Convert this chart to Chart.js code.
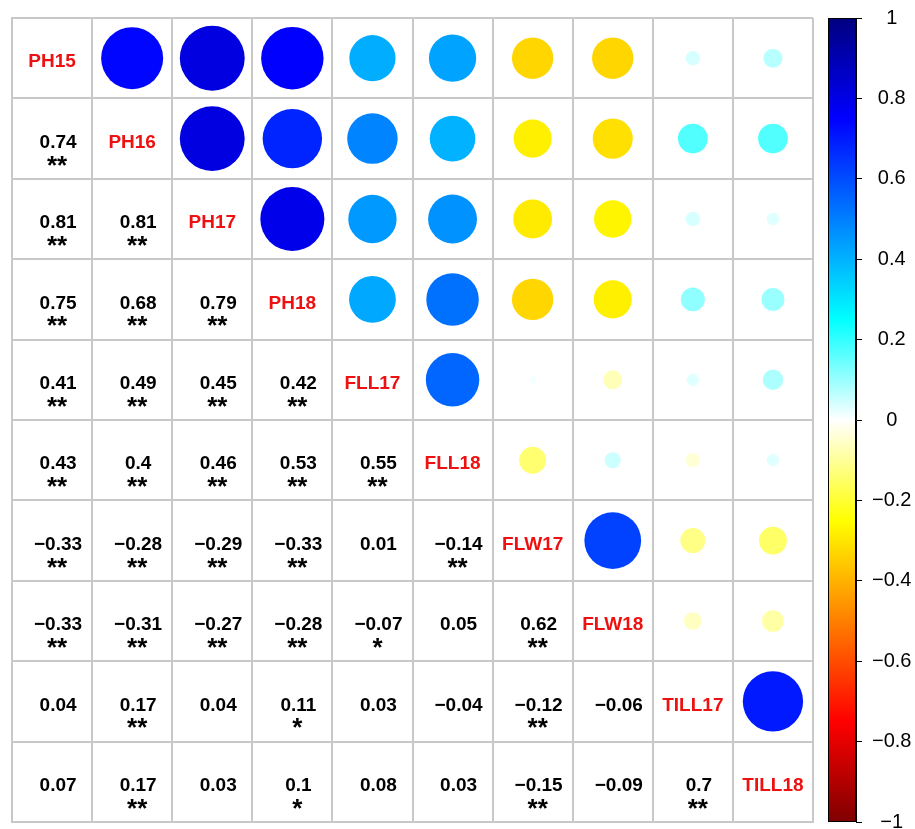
<!DOCTYPE html>
<html>
<head>
<meta charset="utf-8">
<script src="https://cdn.jsdelivr.net/npm/chart.js@4/dist/chart.umd.min.js"></script>
<style>
    html, body { margin: 0; padding: 0; background: #fff; overflow: hidden; }
    #wrap { position: relative; width: 915px; height: 829px; }
    #matrix { position: absolute; left: 0; top: 0; }
    #scaleBar { position: absolute; left: 815px; top: 0; }
</style>
</head>
<body>
<div id="wrap">
    <canvas id="matrix" width="815" height="829"></canvas>
    <canvas id="scaleBar" width="100" height="840"></canvas>
</div>
<script>
// Trait names (diagonal)
const traits = ['PH15', 'PH16', 'PH17', 'PH18', 'FLL17', 'FLL18', 'FLW17', 'FLW18', 'TILL17', 'TILL18'];

// Lower triangle correlations, row by row (row i has i values)
const corrRows = [
    [],
    [0.74],
    [0.81, 0.81],
    [0.75, 0.68, 0.79],
    [0.41, 0.49, 0.45, 0.42],
    [0.43, 0.4, 0.46, 0.53, 0.55],
    [-0.33, -0.28, -0.29, -0.33, 0.01, -0.14],
    [-0.33, -0.31, -0.27, -0.28, -0.07, 0.05, 0.62],
    [0.04, 0.17, 0.04, 0.11, 0.03, -0.04, -0.12, -0.06],
    [0.07, 0.17, 0.03, 0.1, 0.08, 0.03, -0.15, -0.09, 0.7]
];

// Significance marks, same layout
const sigRows = [
    [],
    ['**'],
    ['**', '**'],
    ['**', '**', '**'],
    ['**', '**', '**', '**'],
    ['**', '**', '**', '**', '**'],
    ['**', '**', '**', '**', '', '**'],
    ['**', '**', '**', '**', '*', '', '**'],
    ['', '**', '', '*', '', '', '**', ''],
    ['', '**', '', '*', '', '', '**', '', '**']
];

// Colour ramp from -1 to 1
const rampStops = [-1, -0.75, -0.5, -0.25, 0, 0.25, 0.5, 0.75, 1];
const rampColors = ['#7F0000', '#FF0000', '#FF7F00', '#FFFF00', '#FFFFFF', '#00FFFF', '#007FFF', '#0000FF', '#00007F'];

// Colour bar ticks
const barTicks = [-1, -0.8, -0.6, -0.4, -0.2, 0, 0.2, 0.4, 0.6, 0.8, 1];

const FONT = "'Liberation Sans', Arial, sans-serif";
const GRID = '#c8c8c8';

function hexToRgb(h) {
    return [parseInt(h.slice(1, 3), 16), parseInt(h.slice(3, 5), 16), parseInt(h.slice(5, 7), 16)];
}

function rampColor(v) {
    let k = 0;
    while (k < rampStops.length - 2 && v > rampStops[k + 1]) k++;
    const t = (v - rampStops[k]) / (rampStops[k + 1] - rampStops[k]);
    const a = hexToRgb(rampColors[k]);
    const b = hexToRgb(rampColors[k + 1]);
    const c = a.map((x, n) => Math.round(x + (b[n] - x) * t));
    return `rgb(${c[0]}, ${c[1]}, ${c[2]})`;
}

function fmt(v) {
    return String(v).replace('-', '\u2212');
}

// Circles go in the upper triangle, mirrored from the lower one
const circles = [];
corrRows.forEach((row, i) => {
    row.forEach((v, j) => {
        circles.push({ x: i + 0.5, y: j + 0.5, v: v });
    });
});

// Numbers, stars and names drawn into the cells
const cellText = {
    id: 'cellText',
    afterDatasetsDraw(chart) {
        const { ctx, scales: { x, y } } = chart;
        ctx.save();
        ctx.textAlign = 'center';
        traits.forEach((name, i) => {
            const cx = x.getPixelForValue(i + 0.5);
            const cy = y.getPixelForValue(i + 0.5);
            ctx.fillStyle = '#ee1111';
            ctx.font = `bold 19px ${FONT}`;
            ctx.textBaseline = 'middle';
            ctx.fillText(name, cx, cy + 4);

            corrRows[i].forEach((v, j) => {
                const px = x.getPixelForValue(j + 0.5);
                ctx.fillStyle = '#000';
                ctx.font = `bold 19px ${FONT}`;
                ctx.textBaseline = 'middle';
                ctx.fillText(fmt(v), px + 6, cy + 4);
                const s = sigRows[i][j];
                if (s) {
                    ctx.font = `bold 26px ${FONT}`;
                    ctx.textBaseline = 'alphabetic';
                    ctx.fillText(s, px + 5, cy + 35);
                }
            });
        });
        ctx.restore();
    }
};

// Circle radius follows sqrt(|r|), scaled to the cell width
function circleRadius(c) {
    const sx = c.chart.scales.x;
    const cell = sx.getPixelForValue(1) - sx.getPixelForValue(0);
    if (!c.raw || !Number.isFinite(cell)) return 0;
    return 0.45 * Math.sqrt(Math.abs(c.raw.v)) * cell;
}

new Chart(document.getElementById('matrix'), {
    type: 'scatter',
    data: {
        datasets: [{
            data: circles,
            clip: false,
            showLine: false,
            pointBackgroundColor: c => (c.raw ? rampColor(c.raw.v) : '#fff'),
            pointBorderWidth: 0,
            pointHoverRadius: 0,
            pointRadius: circleRadius
        }]
    },
    options: {
        responsive: false,
        animation: false,
        events: [],
        layout: { padding: { left: 12, top: 18, right: 2, bottom: 7 } },
        plugins: { legend: { display: false }, tooltip: { enabled: false } },
        scales: {
            x: {
                type: 'linear', min: 0, max: 10,
                ticks: { display: false, stepSize: 1 },
                grid: { color: GRID, lineWidth: 2, drawTicks: false },
                border: { color: GRID, width: 2 }
            },
            y: {
                type: 'linear', min: 0, max: 10, reverse: true,
                ticks: { display: false, stepSize: 1 },
                grid: { color: GRID, lineWidth: 2, drawTicks: false },
                border: { color: GRID, width: 2 }
            }
        }
    },
    plugins: [cellText]
});

// Gradient strip for the colour key
const barFill = {
    id: 'barFill',
    beforeDatasetsDraw(chart) {
        const { ctx, chartArea: a, scales: { y } } = chart;
        const top = y.getPixelForValue(1);
        const bottom = y.getPixelForValue(-1);
        const g = ctx.createLinearGradient(0, bottom, 0, top);
        rampStops.forEach((v, k) => g.addColorStop((v + 1) / 2, rampColors[k]));
        ctx.save();
        ctx.fillStyle = g;
        ctx.fillRect(a.left, top, a.right - a.left, bottom - top);
        ctx.strokeStyle = '#000';
        ctx.lineWidth = 1;
        ctx.strokeRect(a.left + 0.5, top + 0.5, a.right - a.left - 1, bottom - top - 1);
        ctx.restore();
    }
};

new Chart(document.getElementById('scaleBar'), {
    type: 'scatter',
    data: { datasets: [] },
    options: {
        responsive: false,
        animation: false,
        events: [],
        layout: { padding: { left: 13, top: 18, right: 0, bottom: 18 } },
        plugins: { legend: { display: false }, tooltip: { enabled: false } },
        scales: {
            x: { display: false, min: 0, max: 1 },
            y: {
                position: 'right', min: -1, max: 1,
                afterBuildTicks: s => { s.ticks = barTicks.map(v => ({ value: v })); },
                afterFit: s => { s.width = 59; s.paddingTop = 0; s.paddingBottom = 0; },
                ticks: {
                    color: '#000',
                    font: { family: FONT, size: 20 },
                    padding: 10,
                    crossAlign: 'center',
                    callback: v => fmt(Math.round(v * 10) / 10)
                },
                grid: { drawOnChartArea: false, drawTicks: true, tickLength: 6, color: '#000', lineWidth: 1 },
                border: { display: true, color: '#000', width: 1 }
            }
        }
    },
    plugins: [barFill]
});
</script>
</body>
</html>
